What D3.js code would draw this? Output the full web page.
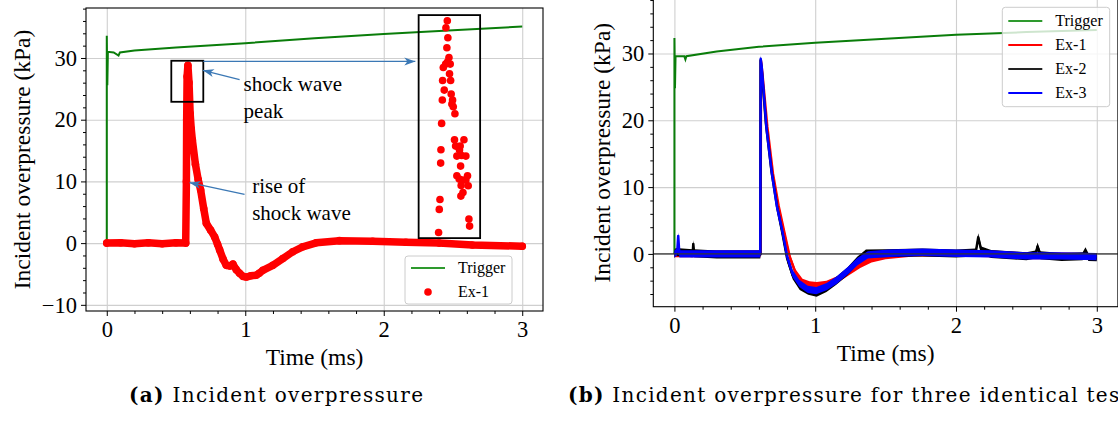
<!DOCTYPE html>
<html>
<head>
<meta charset="utf-8">
<script src="https://cdn.jsdelivr.net/npm/d3@7"></script>
<style>
  body { margin: 0; background: #fff; }
  svg text { font-family: "Liberation Serif", "Times New Roman", serif; fill: #000; }
  svg text.cap { font-family: "DejaVu Serif", serif; }
</style>
</head>
<body>
<div id="graph"></div>
<script>
//values: [time (ms), overpressure (kPa)]

var xTicks = [0, 1, 2, 3];
var yTicksA = [-10, 0, 10, 20, 30];
var yTicksB = [0, 10, 20, 30];

//(a) trigger channel
var triggerA = [[0, -0.2], [0, 33.6], [0.004, 25.6], [0.008, 31.0], [0.05, 30.9], [0.085, 30.4],
  [0.095, 30.9], [0.2, 31.2], [0.5, 31.7], [1, 32.4], [1.5, 33.2], [2, 33.9], [2.5, 34.5], [3, 35.1]];

//(a) Ex-1 pressure trace
var ex1A = [[0, 0], [0.1, 0.05], [0.2, -0.1], [0.3, 0.05], [0.4, -0.1], [0.5, 0.05], [0.57, 0],
  [0.575, 10], [0.577, 20], [0.58, 27], [0.586, 28.8], [0.594, 26], [0.602, 21], [0.61, 18.5],
  [0.618, 16.7], [0.64, 12.8], [0.66, 10.3], [0.678, 8.6], [0.70, 5.6], [0.719, 3.2], [0.75, 2.1],
  [0.779, 1.0], [0.80, -0.2], [0.815, -1.1], [0.84, -2.6], [0.863, -3.6], [0.89, -3.7], [0.911, -3.4],
  [0.935, -4.3], [0.959, -4.9], [0.985, -5.4], [1.007, -5.5], [1.04, -5.3], [1.079, -5.2], [1.10, -4.9],
  [1.127, -4.4], [1.199, -3.6], [1.271, -2.5], [1.343, -1.4], [1.415, -0.6], [1.512, 0.05], [1.68, 0.4],
  [1.92, 0.3], [2.16, 0.15], [2.4, 0], [2.64, -0.3], [3.0, -0.5]];

//(a) magnified peak points drawn inside the big box
var peakZoomA = [[2.459, 36.03], [2.449, 34.90], [2.463, 33.28], [2.456, 31.66], [2.471, 30.09],
  [2.461, 29.39], [2.447, 29.01], [2.480, 29.01], [2.430, 28.47], [2.475, 27.44], [2.425, 26.36],
  [2.483, 26.36], [2.437, 24.80], [2.487, 24.15], [2.423, 23.18], [2.497, 23.18], [2.492, 22.53],
  [2.502, 22.10], [2.514, 20.96], [2.418, 19.40], [2.511, 16.75], [2.579, 16.75], [2.519, 15.72],
  [2.552, 15.72], [2.413, 15.13], [2.547, 15.07], [2.562, 14.21], [2.528, 14.10], [2.593, 14.10],
  [2.411, 12.97], [2.555, 12.48], [2.528, 10.91], [2.605, 10.91], [2.545, 10.37], [2.569, 10.21],
  [2.593, 10.21], [2.559, 9.35], [2.610, 9.29], [2.572, 8.21], [2.557, 7.62], [2.406, 7.08],
  [2.401, 5.46], [2.615, 3.89], [2.620, 2.76], [2.396, 1.73]];

//(a) boxes and annotations, in data units
var peakBox = [[0.466, 22.9], [0.697, 29.55]];
var zoomBox = [[2.252, 0.81], [2.696, 36.95]];
var linkArrow = [[0.697, 29.45], [2.228, 29.45]];
var notesA = [
  {lines: ["shock wave", "peak"], at: [0.988, 24.7], from: [0.959, 26.5], to: [0.694, 28.0]},
  {lines: ["rise of", "shock wave"], at: [1.05, 8.15], from: [0.995, 7.9], to: [0.598, 9.8]}
];

//(b) trigger channel
var triggerB = [[0, 0], [0, 32.3], [0.004, 24.8], [0.008, 29.6], [0.07, 29.6], [0.078, 29.1],
  [0.085, 29.6], [0.3, 30.3], [0.6, 31.0], [1, 31.6], [1.5, 32.2], [2, 32.8], [2.5, 33.2], [3, 33.5]];

//(b) three identical tests
var ex1B = [[0, 0], [0.3, 0], [0.612, 0], [0.615, 28.9], [0.625, 27], [0.66, 19], [0.70, 12],
  [0.74, 7.2], [0.78, 3.3], [0.82, -0.5], [0.86, -2.8], [0.91, -4.2], [0.96, -4.6], [1.01, -4.7],
  [1.08, -4.5], [1.16, -3.8], [1.24, -2.7], [1.32, -1.6], [1.40, -0.8], [1.5, -0.3], [1.7, 0.1],
  [2.0, 0.1], [2.25, 0], [2.5, -0.3], [2.75, -0.3], [3.0, -0.4]];
var ex2B = [[0, 0], [0.01, 0.3], [0.13, 0.1], [0.134, 1.5], [0.14, 0.1], [0.3, -0.1], [0.61, -0.1],
  [0.612, 29.0], [0.62, 27.5], [0.65, 19.5], [0.69, 12.3], [0.73, 7], [0.765, 3.3], [0.80, -0.6],
  [0.84, -3.2], [0.89, -4.8], [0.95, -5.5], [1.01, -5.8], [1.08, -5.1], [1.15, -4], [1.23, -2.6],
  [1.30, -1.0], [1.36, 0.05], [1.5, 0.1], [1.76, 0.2], [2.0, 0.05], [2.14, 0.2], [2.158, 2.5],
  [2.18, 0.5], [2.25, 0], [2.5, -0.35], [2.565, -0.1], [2.579, 1.1], [2.6, -0.2], [2.75, -0.45],
  [2.9, -0.35], [2.92, 0.4], [2.94, -0.45], [3.0, -0.5]];
var ex3B = [[0, 0], [0.02, 0.3], [0.027, 2.7], [0.035, 0], [0.3, 0], [0.61, 0], [0.613, 29.2],
  [0.62, 28], [0.655, 18.6], [0.692, 12.1], [0.728, 7.1], [0.765, 3.6], [0.801, -0.4], [0.838, -2.9],
  [0.887, -4.4], [0.947, -5.3], [1.008, -5.5], [1.081, -4.9], [1.154, -3.9], [1.227, -2.6],
  [1.301, -1.14], [1.374, -0.15], [1.52, 0.1], [1.763, 0.25], [2.007, 0.1], [2.25, 0], [2.494, -0.3],
  [2.737, -0.3], [2.998, -0.4]];

(function(){
  "use strict";

  var W = 1118, H = 423;
  var FS = 22.5;   //tick label size
  var LS = 23.5;   //axis title size
  var green = "#0a7d0a";

  var svg = d3.select("#graph").append("svg")
      .attr("width", W)
      .attr("height", H);

  //builds one panel: scales, grid and a clipped group for data
  function panel(box, yDom, yMajor) {
    var x = d3.scaleLinear().domain([-0.15, 3.15]).range([box.l, box.r]);
    var y = d3.scaleLinear().domain(yDom).range([box.b, box.t]);
    var w = box.r - box.l, h = box.b - box.t;
    var id = "clip" + Math.round(box.l);

    svg.append("clipPath").attr("id", id)
      .append("rect").attr("x", box.l).attr("y", box.t).attr("width", w).attr("height", h);

    var grid = svg.append("g");
    grid.append("g").attr("transform", "translate(0," + box.b + ")")
      .call(d3.axisBottom(x).tickValues(xTicks).tickSize(-h).tickFormat(""));
    grid.append("g").attr("transform", "translate(" + box.l + ",0)")
      .call(d3.axisLeft(y).tickValues(yMajor).tickSize(-w).tickFormat(""));
    grid.selectAll(".domain").remove();
    grid.selectAll("line").attr("stroke", "#cfcfcf").attr("stroke-width", 1.1);

    var plot = svg.append("g").attr("clip-path", "url(#" + id + ")");
    return {x: x, y: y, box: box, plot: plot, yMajor: yMajor, yDom: yDom};
  }

  //ticks, tick labels, spines and axis titles, drawn on top of the data
  function frame(p, yLabelX, xLabelY) {
    var b = p.box;
    var xMinor = d3.range(0, 3.01, 0.2).filter(function(v){ return Math.abs(v - Math.round(v)) > 1e-6; });
    var yMinor = d3.range(-40, 41, 2).filter(function(v){
      return v % 10 !== 0 && v >= p.yDom[0] && v <= p.yDom[1];
    });

    var ax = svg.append("g").attr("transform", "translate(0," + b.b + ")");
    ax.call(d3.axisBottom(p.x).tickValues(xTicks).tickSize(5).tickPadding(5).tickFormat(d3.format("d")));
    ax.append("g").call(d3.axisBottom(p.x).tickValues(xMinor).tickSize(3).tickFormat(""));

    var ay = svg.append("g").attr("transform", "translate(" + b.l + ",0)");
    ay.call(d3.axisLeft(p.y).tickValues(p.yMajor).tickSize(5).tickPadding(4).tickFormat(d3.format("d")));
    ay.append("g").call(d3.axisLeft(p.y).tickValues(yMinor).tickSize(3).tickFormat(""));

    [ax, ay].forEach(function(a){
      a.selectAll(".domain").remove();
      a.selectAll("line").attr("stroke", "#000").attr("stroke-width", 1);
      a.selectAll("text").attr("font-size", FS).attr("font-family", "Liberation Serif");
    });

    svg.append("rect")
      .attr("x", b.l).attr("y", b.t)
      .attr("width", b.r - b.l).attr("height", b.b - b.t)
      .attr("fill", "none").attr("stroke", "#000").attr("stroke-width", 1.1);

    svg.append("text")
      .attr("x", (b.l + b.r) / 2).attr("y", xLabelY)
      .attr("text-anchor", "middle").attr("font-size", LS)
      .text("Time (ms)");

    svg.append("text")
      .attr("transform", "translate(" + yLabelX + "," + ((b.t + b.b) / 2) + ") rotate(-90)")
      .attr("text-anchor", "middle").attr("dy", "0.35em").attr("font-size", LS)
      .text("Incident overpressure (kPa)");
  }

  function legend(x0, y0, w, h, items) {
    var lg = svg.append("g");
    lg.append("rect")
      .attr("x", x0).attr("y", y0).attr("width", w).attr("height", h).attr("rx", 3)
      .attr("fill", "#fff").attr("fill-opacity", 0.8)
      .attr("stroke", "#cccccc").attr("stroke-width", 1);
    var first = (h - 24 * (items.length - 1)) / 2;
    items.forEach(function(it, i){
      var yy = y0 + first + i * 24;
      if (it.dot) {
        lg.append("circle").attr("cx", x0 + 23).attr("cy", yy).attr("r", 3.8).attr("fill", it.color);
      } else {
        lg.append("line")
          .attr("x1", x0 + 6).attr("x2", x0 + 40).attr("y1", yy).attr("y2", yy)
          .attr("stroke", it.color).attr("stroke-width", 2);
      }
      lg.append("text").attr("x", x0 + 53).attr("y", yy).attr("dy", "0.33em")
        .attr("font-size", 16).text(it.name);
    });
  }

  function lineOf(p) {
    return d3.line()
      .x(function(d){ return p.x(d[0]); })
      .y(function(d){ return p.y(d[1]); });
  }

  //noise band round a trace, half width in kPa
  function bandOf(p, half) {
    return d3.area()
      .x(function(d){ return p.x(d[0]); })
      .y0(function(d){ return p.y(d[1] - half); })
      .y1(function(d){ return p.y(d[1] + half); });
  }

  //---------------- (a) ----------------
  var A = panel({l: 86, r: 543, t: 8, b: 311}, [-11.0, 38.1], yTicksA);
  var la = lineOf(A);

  A.plot.append("path").attr("d", la(triggerA))
    .attr("fill", "none").attr("stroke", green).attr("stroke-width", 2);

  //dense dotted trace: thick stroke plus a dot at each read value
  A.plot.append("path").attr("d", la(ex1A))
    .attr("fill", "none").attr("stroke", "#ff0000").attr("stroke-width", 7.5)
    .attr("stroke-linecap", "round").attr("stroke-linejoin", "round");
  A.plot.selectAll("circle.ex1").data(ex1A.concat(peakZoomA)).enter().append("circle")
    .attr("class", "ex1")
    .attr("cx", function(d){ return A.x(d[0]); })
    .attr("cy", function(d){ return A.y(d[1]); })
    .attr("r", 3.8).attr("fill", "#ff0000");

  //boxes
  [peakBox, zoomBox].forEach(function(bx){
    svg.append("rect")
      .attr("x", A.x(bx[0][0])).attr("y", A.y(bx[1][1]))
      .attr("width", A.x(bx[1][0]) - A.x(bx[0][0]))
      .attr("height", A.y(bx[0][1]) - A.y(bx[1][1]))
      .attr("fill", "none").attr("stroke", "#000").attr("stroke-width", 1.8);
  });

  //arrows
  var arrowCol = "#3b78b5";
  svg.append("defs").append("marker")
    .attr("id", "head").attr("viewBox", "-12 -6 14 12")
    .attr("refX", 0).attr("refY", 0)
    .attr("markerWidth", 14).attr("markerHeight", 12)
    .attr("markerUnits", "userSpaceOnUse").attr("orient", "auto")
    .append("path").attr("d", "M0,0 L-11,-4 L-8,0 L-11,4 Z").attr("fill", arrowCol);

  function arrow(from, to) {
    svg.append("line")
      .attr("x1", A.x(from[0])).attr("y1", A.y(from[1]))
      .attr("x2", A.x(to[0])).attr("y2", A.y(to[1]))
      .attr("stroke", arrowCol).attr("stroke-width", 1.3)
      .attr("marker-end", "url(#head)");
  }
  arrow(linkArrow[0], linkArrow[1]);
  notesA.forEach(function(n){
    arrow(n.from, n.to);
    var t = svg.append("text").attr("x", A.x(n.at[0])).attr("y", A.y(n.at[1])).attr("font-size", 21);
    n.lines.forEach(function(s, i){
      t.append("tspan").attr("x", A.x(n.at[0])).attr("dy", i ? 27 : 0).text(s);
    });
  });

  frame(A, 22, 365);
  legend(405, 256, 107, 48, [
    {name: "Trigger", color: "#2e9a2e"},
    {name: "Ex-1", color: "#ff0000", dot: true}
  ]);

  //---------------- (b) ----------------
  var B = panel({l: 653.3, r: 1117.9, t: -1.3, b: 306.7}, [-7.9, 38.2], yTicksB);
  var lb = lineOf(B);

  B.plot.append("path").attr("d", lb(triggerB))
    .attr("fill", "none").attr("stroke", green).attr("stroke-width", 2);

  var series = [
    {data: ex1B, color: "#ff0000", half: 0.5},
    {data: ex2B, color: "#000000", half: 0.6},
    {data: ex3B, color: "#0000ff", half: 0.55}
  ];
  series.forEach(function(s){
    B.plot.append("path").attr("d", bandOf(B, s.half)(s.data)).attr("fill", s.color);
    B.plot.append("path").attr("d", lb(s.data))
      .attr("fill", "none").attr("stroke", s.color).attr("stroke-width", 2.5)
      .attr("stroke-linejoin", "round");
  });

  //zero reference line
  B.plot.append("line")
    .attr("x1", B.box.l).attr("x2", B.box.r)
    .attr("y1", B.y(0)).attr("y2", B.y(0))
    .attr("stroke", "#333").attr("stroke-width", 1.3);

  frame(B, 602, 361);
  legend(1002.3, 7.3, 107.4, 99.4, [
    {name: "Trigger", color: "#2e9a2e"},
    {name: "Ex-1", color: "#ff0000"},
    {name: "Ex-2", color: "#222222"},
    {name: "Ex-3", color: "#0000ff"}
  ]);

  //---------------- captions ----------------
  function caption(x, tag, rest, len) {
    var t = svg.append("text").attr("class", "cap")
      .attr("x", x).attr("y", 402).attr("font-size", 20)
      .attr("textLength", len).attr("lengthAdjust", "spacing");
    t.append("tspan").attr("font-weight", "bold").text(tag);
    t.append("tspan").text(rest);
  }
  caption(129, "(a)", " Incident overpressure", 294);
  caption(568, "(b)", " Incident overpressure for three identical tests", 572);
})();
</script>
</body>
</html>
